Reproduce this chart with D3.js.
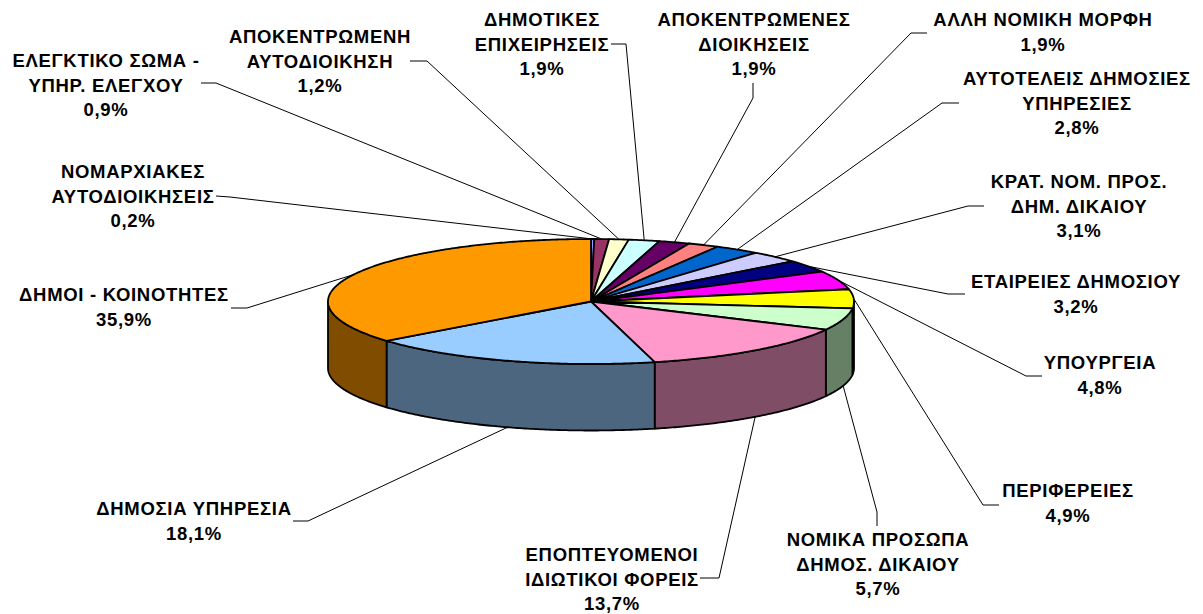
<!DOCTYPE html>
<html><head><meta charset="utf-8">
<script src="https://cdnjs.cloudflare.com/ajax/libs/d3/7.8.5/d3.min.js"></script>
<style>html,body{margin:0;background:#fff}svg{display:block}text{font-family:"Liberation Sans",Arial,sans-serif;font-weight:700;font-size:18.5px;letter-spacing:.7px;fill:#000;text-anchor:middle}</style>
</head><body><svg id="c" width="1203" height="614"></svg>
<script>
const categories=[["ΝΟΜΑΡΧΙΑΚΕΣ","ΑΥΤΟΔΙΟΙΚΗΣΕΙΣ"],["ΕΛΕΓΚΤΙΚΟ ΣΩΜΑ -","ΥΠΗΡ. ΕΛΕΓΧΟΥ"],["ΑΠΟΚΕΝΤΡΩΜΕΝΗ","ΑΥΤΟΔΙΟΙΚΗΣΗ"],["ΔΗΜΟΤΙΚΕΣ","ΕΠΙΧΕΙΡΗΣΕΙΣ"],["ΑΠΟΚΕΝΤΡΩΜΕΝΕΣ","ΔΙΟΙΚΗΣΕΙΣ"],["ΑΛΛΗ ΝΟΜΙΚΗ ΜΟΡΦΗ"],["ΑΥΤΟΤΕΛΕΙΣ ΔΗΜΟΣΙΕΣ","ΥΠΗΡΕΣΙΕΣ"],["ΚΡΑΤ. ΝΟΜ. ΠΡΟΣ.","ΔΗΜ. ΔΙΚΑΙΟΥ"],["ΕΤΑΙΡΕΙΕΣ ΔΗΜΟΣΙΟΥ"],["ΥΠΟΥΡΓΕΙΑ"],["ΠΕΡΙΦΕΡΕΙΕΣ"],["ΝΟΜΙΚΑ ΠΡΟΣΩΠΑ","ΔΗΜΟΣ. ΔΙΚΑΙΟΥ"],["ΕΠΟΠΤΕΥΟΜΕΝΟΙ","ΙΔΙΩΤΙΚΟΙ ΦΟΡΕΙΣ"],["ΔΗΜΟΣΙΑ ΥΠΗΡΕΣΙΑ"],["ΔΗΜΟΙ - ΚΟΙΝΟΤΗΤΕΣ"]];
const values=[0.2,0.9,1.2,1.9,1.9,1.9,2.8,3.1,3.2,4.8,4.9,5.7,13.7,18.1,35.9];
const topColors=["#9999ff","#993366","#ffffcc","#ccffff","#660066","#ff8080","#0066cc","#ccccff","#000080","#ff00ff","#ffff00","#ccffcc","#ff99cc","#99ccff","#ff9900"];
const sideColors=["#4d4d80","#4d1a33","#808066","#668080","#330033","#804040","#003366","#666680","#000040","#800080","#808000","#668066","#804d66","#4d6680","#804d00"];
// layout: label centre x, first baseline y, then leader knee points
const labelX=[133,106,320,542,754,1043,1077,1079,1076,1100,1068,878,612,194,124];
const labelY=[178,67,43,26,26,26,85,188,288,369,497,546,561,515,301];
const kneePts=[[[216,196],[230,197]],[[201,83],[216,83]],[[410,61],[427,61]],[[611,44],[626,44]],[[753,83],[753,98]],[[927,33],[911,33]],[[959,103],[942,103]],[[984,206],[968,206]],[[965,294],[948,294]],[[1042,376],[1026,376]],[[999,505],[983,505]],[[877,526],[877,512]],[[700,578],[719,578]],[[293,521],[308,521]],[[231,308],[247,308]]];
const cx=591,cy=301.5,rx=263,ry=62.5,depth=66.5;
const sx=d3.scaleLinear().domain([-1,1]).range([cx-rx,cx+rx]);
const sy=d3.scaleLinear().domain([-1,1]).range([cy-ry,cy+ry]);
const px=a=>sx(Math.sin(a)),py=a=>sy(-Math.cos(a));
const line=d3.line().x(d=>d[0]).y(d=>d[1]);
const arcs=d3.pie().sort(null).value(d=>d)(values);
const svg=d3.select("#c");
const samples=(a,b)=>{const n=Math.max(2,Math.ceil((b-a)/0.01));return d3.range(n+1).map(i=>a+(b-a)*i/n);};
const P=Math.PI,walls=svg.append("g");
arcs.map((d,i)=>({a:Math.max(d.startAngle,P/2),b:Math.min(d.endAngle,3*P/2),i})).filter(d=>d.b>d.a).forEach(d=>{
  const s=samples(d.a,d.b);
  const up=s.map(t=>[px(t),py(t)]),down=s.slice().reverse().map(t=>[px(t),py(t)+depth]);
  walls.append("path").attr("d",line(up.concat(down))+"Z").attr("fill",sideColors[d.i]).attr("stroke","#000").attr("stroke-width",1.8).attr("stroke-linejoin","round");
});
const tops=svg.append("g");
arcs.forEach((d,i)=>{
  const pts=[[cx,cy]].concat(samples(d.startAngle,d.endAngle).map(t=>[px(t),py(t)]));
  tops.append("path").attr("d",line(pts)+"Z").attr("fill",topColors[i]).attr("stroke","#000").attr("stroke-width",1.8).attr("stroke-linejoin","round");
});
const g=svg.append("g");
arcs.forEach((d,i)=>{
  const m=(d.startAngle+d.endAngle)/2;
  const low=m>P/2&&m<3*P/2;
  const end=[px(m),py(m)+(low?depth:0)];
  g.append("path").attr("d",line(kneePts[i].concat([end]))).attr("fill","none").attr("stroke","#000").attr("stroke-width",1);
  const lines=categories[i].concat([values[i].toFixed(1).replace(".",",")+"%"]);
  const t=g.append("text").attr("x",labelX[i]).attr("y",labelY[i]);
  lines.forEach((l,j)=>t.append("tspan").attr("x",labelX[i]).attr("dy",j?24.7:0).text(l));
});
</script></body></html>
